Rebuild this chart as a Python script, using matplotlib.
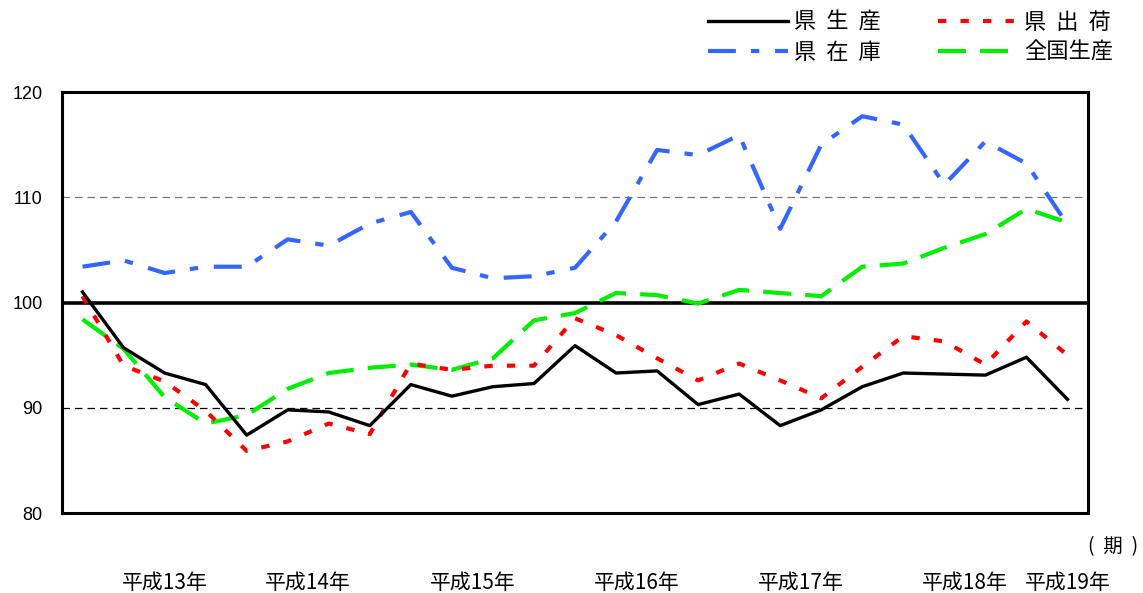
import matplotlib.pyplot as plt
import numpy as np

plt.rcParams['font.family'] = ['Noto Sans CJK JP', 'DejaVu Sans']

# 四半期ごとの指数 (平成13年1期 ～ 平成19年1期)
ken_seisan = [101.0, 95.7, 93.3, 92.2, 87.4, 89.8, 89.6, 88.3, 92.2, 91.1,
              92.0, 92.3, 95.9, 93.3, 93.5, 90.3, 91.3, 88.3, 89.8, 92.0,
              93.3, 93.2, 93.1, 94.8, 90.8]
ken_shukka = [100.6, 94.0, 92.5, 89.7, 85.9, 86.8, 88.5, 87.5, 94.2, 93.6,
              94.0, 94.0, 98.5, 96.9, 94.7, 92.6, 94.2, 92.6, 90.9, 93.9,
              96.8, 96.3, 94.1, 98.2, 95.0]
ken_zaiko = [103.4, 104.0, 102.8, 103.4, 103.4, 106.0, 105.4, 107.5, 108.6, 103.3,
             102.3, 102.5, 103.3, 107.7, 114.5, 114.0, 115.9, 107.0, 115.0, 117.7,
             116.9, 111.2, 115.3, 113.2, 107.4]
zenkoku = [98.4, 95.6, 91.0, 88.5, 89.3, 91.8, 93.3, 93.8, 94.1, 93.6,
           94.7, 98.3, 99.0, 100.9, 100.7, 99.9, 101.2, 100.9, 100.6, 103.4,
           103.7, 105.2, 106.5, 108.9, 107.6]

year_labels = ['平成13年', '平成14年', '平成15年', '平成16年', '平成17年', '平成18年', '平成19年']
year_pos = [2, 5.5, 9.5, 13.5, 17.5, 21.5, 24]
y_ticks = [80, 90, 100, 110, 120]

x = np.arange(len(ken_seisan))

W, H = 1143, 593
fig = plt.figure(figsize=(W / 100, H / 100), dpi=100)
ax = fig.add_axes([62 / W, 1 - 513 / H, (1088 - 62) / W, (513 - 92) / H])

ax.axhline(110, color='#777777', lw=0.9, dashes=(6, 4), zorder=1)
ax.axhline(90, color='black', lw=0.9, dashes=(6, 4), zorder=1)
ax.axhline(100, color='black', lw=2.6, zorder=2)

l1, = ax.plot(x, ken_seisan, color='black', lw=2.4, zorder=5, label='県  生  産')
l2, = ax.plot(x, ken_shukka, color='#ff0000', lw=3.0, dashes=(2, 3.4), zorder=4, label='県  出  荷')
l3, = ax.plot(x, ken_zaiko, color='#3366ff', lw=3.0, dashes=(6.7, 3.6, 2, 3.8), zorder=3, label='県  在  庫')
l4, = ax.plot(x, zenkoku, color='#00ee00', lw=3.0, dashes=(6.7, 3.4), zorder=3, label='全国生産')

ax.set_xlim(-0.5, 24.5)
ax.set_ylim(80, 120)
ax.set_yticks(y_ticks)
ax.set_yticklabels([str(v) for v in y_ticks], family=['Liberation Sans', 'DejaVu Sans'], fontsize=13)
ax.set_xticks([])
ax.tick_params(axis='y', length=0, pad=14)
for s in ax.spines.values():
    s.set_linewidth(2.2)

for p, t in zip(year_pos, year_labels):
    ax.text(p, 73.35, t, ha='center', va='center', fontsize=15)
fig.text(1138 / W, 1 - 547 / H, '(  期  )', ha='right', va='center', fontsize=14)

fig.legend(handles=[l1, l3, l2, l4], ncol=2, loc='upper left',
           bbox_to_anchor=(708 / W, 1 - 11 / H), frameon=False, fontsize=16,
           handlelength=3.6, columnspacing=2.55, handletextpad=0.28,
           labelspacing=0.3, borderpad=0, borderaxespad=0)

fig.savefig('out.png', dpi=100)
